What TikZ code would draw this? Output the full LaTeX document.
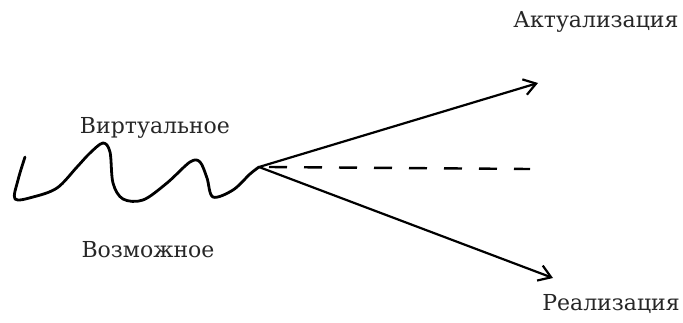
\documentclass[tikz,border=0pt]{standalone}
\usepackage{fontspec}
\setmainfont{DejaVu Serif}
\usetikzlibrary{arrows.meta}
\begin{document}
\begin{tikzpicture}[x=1pt,y=-1pt,
  label/.style={font=\fontsize{22}{26}\selectfont, text=black!85, inner sep=0pt},
  stroke/.style={line width=2.8pt, line cap=round, line join=round},
  ray/.style={line width=2.2pt, line cap=round,
    -{Straight Barb[length=12pt,width=16pt,line width=2.2pt]}},
  hint/.style={line width=2.4pt, dash pattern=on 18pt off 17pt}]
  \useasboundingbox (0,0) rectangle (683,322);

  % captions
  \node[label] (act)  at (596,22)  {Актуализация};
  \node[label] (virt) at (155,128) {Виртуальное};
  \node[label] (poss) at (148,250) {Возможное};
  \node[label] (real) at (611,304) {Реализация};

  % the wavy line of the virtual
  \coordinate (apex) at (259,167);
  \draw[stroke] plot[smooth, tension=0.55] coordinates {
    (25,157) (18,180) (15,199) (33,197) (57,188) (77,167) (90,153)
    (103,143) (110,152) (113,183) (123,199) (143,200) (167,183)
    (190,162) (200,162) (207,178) (213,197) (233,190) (250,174) (259,167)};

  % branches out of the apex
  \coordinate (upTip)  at (538,83);
  \coordinate (lowTip) at (553,278);
  \coordinate (midEnd) at (530,169);
  \draw[ray] (apex) -- (upTip);
  \draw[ray] (apex) -- (lowTip);
  \draw[hint] ([xshift=10pt]apex.center) -- (midEnd);
\end{tikzpicture}
\end{document}
